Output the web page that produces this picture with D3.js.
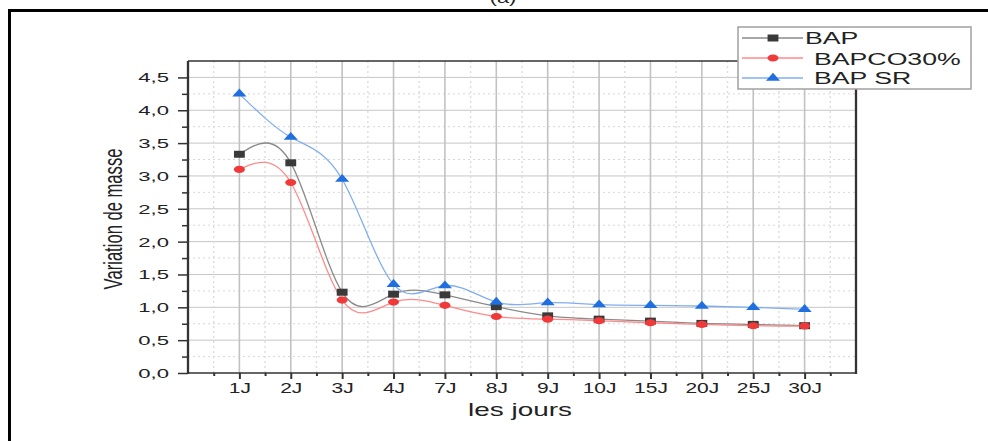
<!DOCTYPE html>
<html><head><meta charset="utf-8">
<script src="https://cdn.jsdelivr.net/npm/d3@7"></script>
<style>
html,body{margin:0;padding:0;background:#fff;}
svg{display:block;font-family:"Liberation Sans",Arial,sans-serif;}
</style></head>
<body>
<svg id="chart" width="988" height="441"></svg>
<script>
// ---- data ----
const categories = ["1J","2J","3J","4J","7J","8J","9J","10J","15J","20J","25J","30J"];
const bapValues   = [3.33, 3.20, 1.23, 1.20, 1.19, 1.01, 0.87, 0.82, 0.79, 0.755, 0.74, 0.72];
const bapco30Values = [3.10, 2.90, 1.11, 1.08, 1.03, 0.86, 0.82, 0.795, 0.765, 0.74, 0.72, 0.715];
const bapSRValues = [4.25, 3.59, 2.95, 1.35, 1.33, 1.08, 1.07, 1.04, 1.03, 1.02, 1.00, 0.97];
const yTickValues = [0, 0.5, 1.0, 1.5, 2.0, 2.5, 3.0, 3.5, 4.0, 4.5];
const seriesNames = ["BAP", "BAPCO30%", "BAP SR"];
const xTitle = "les jours";
const yTitle = "Variation de masse";

(function () {
const svg = d3.select("#chart");
const SX = 1.55; // horizontal stretch of the original picture

const pL = 188, pR = 856, pT = 61, pB = 373;
const x = d3.scaleLinear().domain([0, categories.length + 1]).range([pL, pR]);
const y = d3.scaleLinear().domain([0, 4.75]).range([pB, pT]);

// outer frame
svg.append("line").attr("x1", 9.5).attr("x2", 9.5).attr("y1", 9).attr("y2", 441).attr("stroke", "#000").attr("stroke-width", 3);
svg.append("line").attr("x1", 8).attr("x2", 988).attr("y1", 10.5).attr("y2", 10.5).attr("stroke", "#000").attr("stroke-width", 3);
svg.append("text").attr("transform", `translate(503,3) scale(${SX},1)`).attr("text-anchor", "middle")
  .attr("font-size", 14).attr("fill", "#222").text("(a)");

// grid
const g = svg.append("g");
const minorY = d3.range(0.25, 4.75, 0.5);
g.selectAll(".gyMinor").data(minorY).join("line")
  .attr("x1", pL).attr("x2", pR).attr("y1", d => y(d)).attr("y2", d => y(d))
  .attr("stroke", "#d8d8d8").attr("stroke-width", 1).attr("stroke-dasharray", "2,3");
g.selectAll(".gyMajor").data(yTickValues.slice(1)).join("line")
  .attr("x1", pL).attr("x2", pR).attr("y1", d => y(d)).attr("y2", d => y(d))
  .attr("stroke", "#c6c6c6").attr("stroke-width", 1);
const minorX = d3.range(0.5, categories.length + 1, 1);
g.selectAll(".gxMinor").data(minorX).join("line")
  .attr("x1", d => x(d)).attr("x2", d => x(d)).attr("y1", pT).attr("y2", pB)
  .attr("stroke", "#dcdcdc").attr("stroke-width", 1.4).attr("stroke-dasharray", "2,3");
g.selectAll(".gxMajor").data(d3.range(1, categories.length + 1)).join("line")
  .attr("x1", d => x(d)).attr("x2", d => x(d)).attr("y1", pT).attr("y2", pB)
  .attr("stroke", "#c2c2c2").attr("stroke-width", 1.6);

// axes
const axisColor = "#333";
const yAxis = d3.axisLeft(y).tickValues(yTickValues).tickSize(10).tickPadding(0)
  .tickFormat(d => d3.format(".1f")(d).replace(".", ","));
const ya = svg.append("g").attr("transform", `translate(${pL},0)`).call(yAxis);
ya.select(".domain").remove();
ya.selectAll(".tick line").attr("stroke", axisColor).attr("stroke-width", 1.5);
ya.selectAll(".tick text").attr("x", null).attr("dy", null)
  .attr("transform", `translate(-19,4.5) scale(1.7,1)`)
  .attr("font-size", 13).attr("fill", "#222").attr("text-anchor", "end");
const yMinorAxis = d3.axisLeft(y).tickValues(minorY).tickSize(6).tickFormat("");
const yma = svg.append("g").attr("transform", `translate(${pL},0)`).call(yMinorAxis);
yma.select(".domain").remove();
yma.selectAll(".tick line").attr("stroke", axisColor).attr("stroke-width", 1.5);

const xAxis = d3.axisBottom(x).tickValues(d3.range(1, categories.length + 1)).tickSize(6)
  .tickFormat(i => categories[i - 1]);
const xa = svg.append("g").attr("transform", `translate(0,${pB})`).call(xAxis);
xa.select(".domain").remove();
xa.selectAll(".tick line").attr("stroke", axisColor).attr("stroke-width", 2);
xa.selectAll(".tick text").attr("y", null).attr("dy", null)
  .attr("transform", `translate(0,20) scale(1.5,1)`)
  .attr("font-size", 14).attr("fill", "#222");
const xMinorAxis = d3.axisBottom(x).tickValues(minorX).tickSize(3).tickFormat("");
const xma = svg.append("g").attr("transform", `translate(0,${pB})`).call(xMinorAxis);
xma.select(".domain").remove();
xma.selectAll(".tick line").attr("stroke", axisColor).attr("stroke-width", 2);

// frame lines
svg.append("line").attr("x1", pL).attr("x2", pL).attr("y1", pT).attr("y2", pB + 1).attr("stroke", axisColor).attr("stroke-width", 2.3);
svg.append("line").attr("x1", pR).attr("x2", pR).attr("y1", pT).attr("y2", pB + 1).attr("stroke", axisColor).attr("stroke-width", 2.3);
svg.append("line").attr("x1", pL).attr("x2", pR).attr("y1", pB).attr("y2", pB).attr("stroke", axisColor).attr("stroke-width", 1.5);
svg.append("line").attr("x1", pL).attr("x2", pR).attr("y1", pT).attr("y2", pT).attr("stroke", axisColor).attr("stroke-width", 1.5);

// titles
svg.append("text").attr("transform", `translate(520,416) scale(${SX},1)`).attr("text-anchor", "middle")
  .attr("font-size", 18).attr("fill", "#222").text(xTitle);
svg.append("text").attr("transform", `translate(122,219) scale(${SX},1) rotate(-90)`).attr("text-anchor", "middle")
  .attr("font-size", 16.6).attr("fill", "#222").text(yTitle);

// series
const series = [
  {name: seriesNames[0], values: bapValues, line: "#8a8a8a", mark: "#3a3a3a", sym: d3.symbolSquare, size: 49},
  {name: seriesNames[1], values: bapco30Values, line: "#ff8a8a", mark: "#f03a3a", sym: d3.symbolCircle, size: 40},
  {name: seriesNames[2], values: bapSRValues, line: "#80aef0", mark: "#1f6fe0", sym: d3.symbolTriangle, size: 36}
];
const lineGen = d3.line().x((d, i) => x(i + 1)).y(d => y(d)).curve(d3.curveNatural);
series.forEach(s => {
  svg.append("path").datum(s.values).attr("d", lineGen)
    .attr("fill", "none").attr("stroke", s.line).attr("stroke-width", 1.3);
});
series.forEach(s => {
  svg.append("g").selectAll("path").data(s.values).join("path")
    .attr("d", d3.symbol().type(s.sym).size(s.size))
    .attr("transform", (d, i) => `translate(${x(i + 1)},${y(d)}) scale(${SX},1)`)
    .attr("fill", s.mark);
});

// legend
const lg = svg.append("g");
lg.append("rect").attr("x", 738).attr("y", 27).attr("width", 233).attr("height", 62)
  .attr("fill", "#fff").attr("stroke", "#a0a0a0").attr("stroke-width", 1.5);
const legY = [38, 58, 78];
const legTextX = [805, 814, 814];
const legBase = [43.5, 64.5, 84];
series.forEach((s, k) => {
  lg.append("line").attr("x1", 742).attr("x2", 803).attr("y1", legY[k]).attr("y2", legY[k])
    .attr("stroke", s.line).attr("stroke-width", 1.3);
  lg.append("path").attr("d", d3.symbol().type(s.sym).size(s.size)())
    .attr("transform", `translate(773,${legY[k]}) scale(${SX},1)`).attr("fill", s.mark);
  lg.append("text").attr("transform", `translate(${legTextX[k]},${legBase[k]}) scale(1.57,1)`)
    .attr("font-size", 17).attr("fill", "#222").text(s.name);
});
})();
</script>
</body></html>
